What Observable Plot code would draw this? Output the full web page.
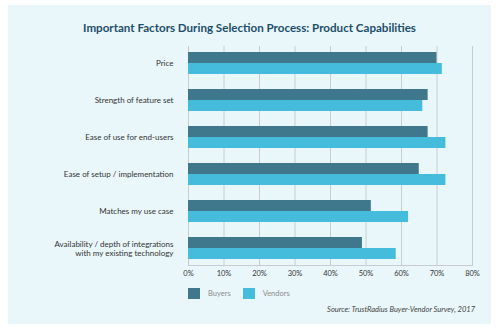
<!DOCTYPE html>
<html>
<head>
<meta charset="utf-8">
<script src="https://cdn.jsdelivr.net/npm/d3@7"></script>
<script src="https://cdn.jsdelivr.net/npm/@observablehq/plot@0.6"></script>
<style>
  html, body { margin: 0; padding: 0; background: #ffffff; width: 500px; height: 333px; overflow: hidden; }
  #panel { position: absolute; left: 8px; top: 5px; width: 483px; height: 319px; background: #e9f7fb; font-family: Lato, "Open Sans", sans-serif; }
  #title { position: absolute; left: 0; top: 16px; width: 483px; text-align: center; font-weight: 700; font-size: 11.6px; color: #1d4e69; }
  #chart { position: absolute; left: 0; top: 39px; }
  #chart svg text { fill: #333333; }
  #legend { position: absolute; left: 180px; top: 283px; font-size: 7.5px; color: #8c8c8c; display: flex; align-items: center; }
  .sw { display: inline-block; width: 12px; height: 11px; margin-right: 8px; }
  .item { display: flex; align-items: center; margin-right: 12px; }
  #source { position: absolute; right: 16px; top: 300px; font-size: 7.5px; font-style: italic; color: #444; }
</style>
</head>
<body>
<div id="panel">
  <div id="title">Important Factors During Selection Process: Product Capabilities</div>
  <div id="chart"></div>
  <div id="legend"></div>
  <div id="source">Source: TrustRadius Buyer-Vendor Survey, 2017</div>
</div>
<script>
const categories = [
  "Price",
  "Strength of feature set",
  "Ease of use for end-users",
  "Ease of setup / implementation",
  "Matches my use case",
  "Availability / depth of integrations\nwith my existing technology"
];
const buyers = [70, 67.5, 67.5, 65, 51.5, 49];
const vendors = [71.5, 66, 72.5, 72.5, 62, 58.5];
const seriesNames = ["Buyers", "Vendors"];
const colors = ["#3f788d", "#46bcdc"];
const xTicks = [0, 10, 20, 30, 40, 50, 60, 70, 80];

const data = categories.map((c, i) => ({category: c, buyers: buyers[i], vendors: vendors[i]}));

const chart = Plot.plot({
  width: 483,
  height: 241,
  marginLeft: 180,
  marginRight: 19,
  marginTop: 2,
  marginBottom: 20,
  style: {background: "transparent", color: "#c8ccd1", fontFamily: "Lato, sans-serif", fontSize: "7.5px"},
  x: {domain: [0, 80], ticks: xTicks, tickFormat: d => d + "%", tickSize: 0, tickPadding: 5, label: null, line: true},
  y: {domain: categories, axis: null, paddingInner: 15 / 37, paddingOuter: 0.162},
  marks: [
    Plot.ruleX(xTicks, {stroke: "#c8ccd1", strokeWidth: 1}),
    Plot.barX(data, {y: "category", x: "buyers", fill: colors[0], insetBottom: 11}),
    Plot.barX(data, {y: "category", x: "vendors", fill: colors[1], insetTop: 11}),
    Plot.text(data, {y: "category", text: "category", frameAnchor: "left", dx: -15, textAnchor: "end", fill: "#333", fontSize: 8, lineHeight: 1.15})
  ]
});
document.getElementById("chart").appendChild(chart);

const legend = document.getElementById("legend");
seriesNames.forEach((name, i) => {
  const item = document.createElement("div");
  item.className = "item";
  item.innerHTML = `<span class="sw" style="background:${colors[i]}"></span><span>${name}</span>`;
  legend.appendChild(item);
});
</script>
</body>
</html>
